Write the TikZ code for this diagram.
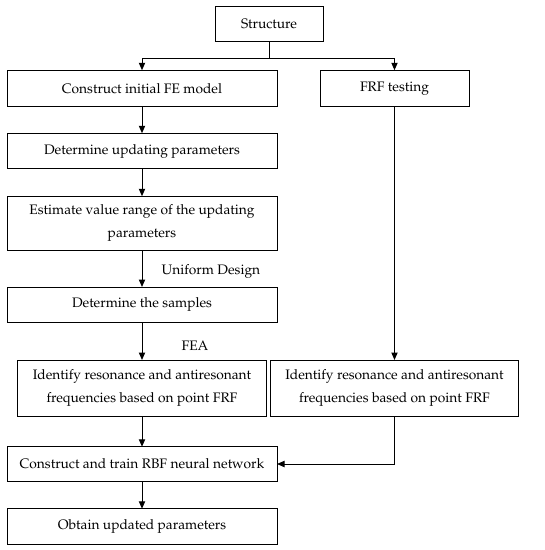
\documentclass[tikz,border=0pt]{standalone}
\usepackage[T1]{fontenc}
\usepackage{mathpazo}
\usetikzlibrary{positioning,arrows.meta}

\begin{document}
\begin{tikzpicture}[node distance=0, line width=0.8pt,
  box/.style={rectangle, draw=black, outer sep=0pt, minimum width=216pt, minimum height=28.4pt, align=center, font=\fontsize{11pt}{18.5pt}\selectfont},
  arr/.style={-{Triangle[length=6pt,width=5pt]}}]
\useasboundingbox (0,0) rectangle (436pt,-440pt);

\node[box, minimum width=86.4pt](struct) at (215.2pt,-19.2pt){Structure};
\node[box, minimum height=29.2pt](feModel) at (113.6pt,-70.8pt){Construct initial FE model};
\node[box, minimum width=119.2pt, minimum height=29.2pt](frfTest) at (315.6pt,-70.8pt){FRF testing};

\node[box](detParams)[below=21.2pt of feModel]{Determine updating parameters};
\node[box, minimum height=43.4pt](estRange)[below=22pt of detParams]{Estimate value range of the updating\\parameters};
\node[box](detSamples)[below=29.2pt of estRange]{Determine the samples};
\node[box, minimum width=199.2pt, minimum height=45pt](identLeft)[below=30pt of detSamples]{Identify resonance and antiresonant\\frequencies based on point FRF};
\node[box, minimum width=198.4pt, minimum height=45pt](identRight)[right=3.2pt of identLeft]{Identify resonance and antiresonant\\frequencies based on point FRF};
\node[box, minimum height=27.6pt](trainRBF)[below=24.4pt of identLeft]{Construct and train RBF neural network};
\node[box](obtParams)[below=22pt of trainRBF]{Obtain updated parameters};

% branch from the structure
\draw (struct.south) -- ++(0,-13.6pt) coordinate (splitPoint);
\draw[arr] (splitPoint) -| (feModel.north);
\draw[arr] (splitPoint) -| (frfTest.north);

% left column
\draw[arr] (feModel) -- (detParams);
\draw[arr] (detParams) -- (estRange);
\draw[arr] (estRange) -- node[pos=0.58, anchor=west, xshift=12pt, font=\fontsize{11pt}{12pt}\selectfont]{Uniform Design} (detSamples);
\draw[arr] (detSamples) -- node[pos=0.62, anchor=west, xshift=28pt, font=\fontsize{11pt}{12pt}\selectfont]{FEA} (identLeft);
\draw[arr] (identLeft) -- (trainRBF);
\draw[arr] (trainRBF) -- (obtParams);

% right column
\draw[arr] (frfTest.south) -- (frfTest.south |- identRight.north);
\draw[arr] (identRight.south) |- (trainRBF.east);

\end{tikzpicture}
\end{document}
